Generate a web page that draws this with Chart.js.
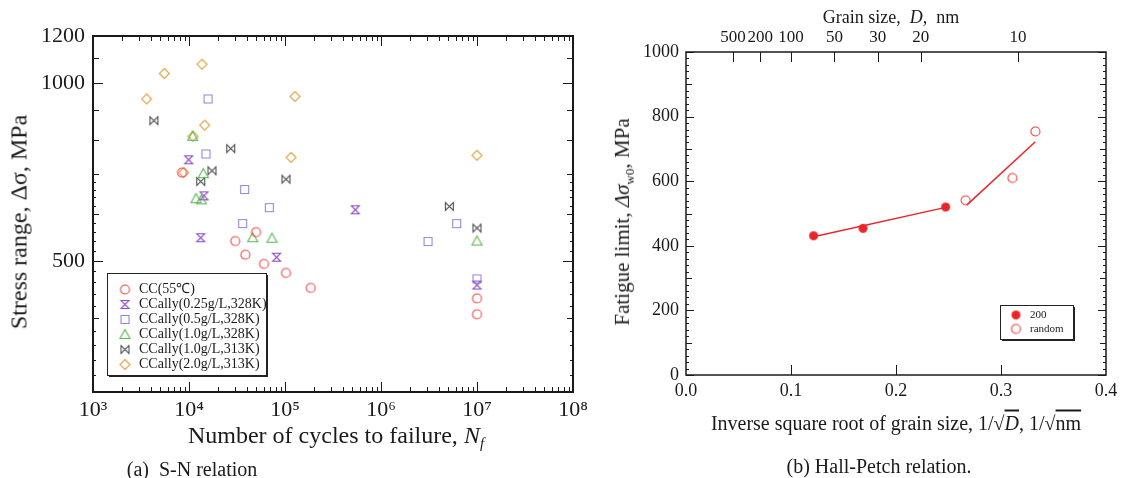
<!DOCTYPE html>
<html>
<head>
<meta charset="utf-8">
<script src="https://cdn.jsdelivr.net/npm/chart.js@4.4.0/dist/chart.umd.min.js"></script>
<style>
  body { margin: 0; background: #fff; font-family: "Liberation Serif", "Times New Roman", serif; color: #1a1a1a; }
  #page { position: relative; width: 1136px; height: 478px; overflow: hidden; }
  canvas { position: absolute; top: 0; }
  .lbl { position: absolute; white-space: nowrap; transform: translate(-50%, -50%); }
  .vlbl { position: absolute; white-space: nowrap; transform: translate(-50%, -50%) rotate(-90deg); }
  .lbl sub, .vlbl sub { font-size: 62%; }
  .ov { text-decoration: overline; }
</style>
</head>
<body>
<div id="page">
  <canvas id="sn" width="600" height="478" style="left:0"></canvas>
  <canvas id="hp" width="536" height="478" style="left:600px"></canvas>

  <div class="vlbl" style="left:19px; top:222px; font-size:24px">Stress range, Δσ, MPa</div>
  <div class="lbl" style="left:336px; top:437px; font-size:24px">Number of cycles to failure, <i>N</i><sub><i>f</i></sub></div>
  <div class="lbl" style="left:192px; top:469px; font-size:20px">(a)&nbsp; S-N relation</div>

  <div class="lbl" style="left:891px; top:17px; font-size:18px">Grain size,&nbsp; <i>D</i>,&nbsp; nm</div>
  <div class="vlbl" style="left:624px; top:222px; font-size:21px">Fatigue limit, <i>Δσ</i><sub>w0</sub>, MPa</div>
  <div class="lbl" style="left:896px; top:423px; font-size:20px">Inverse square root of grain size, 1/√<span class="ov"><i>D</i></span>, 1/√<span class="ov">nm</span></div>
  <div class="lbl" style="left:879px; top:466px; font-size:20px">(b) Hall-Petch relation.</div>
</div>

<script>
// ---- (a) S-N data: cycles to failure / stress range (MPa)
let ccN = [8450, 30300, 49900, 38600, 60400, 102400, 185300, 1e7, 1e7];
let ccS = [705, 540, 559, 512, 494, 477, 450, 432, 406];
let c025N = [9930, 14320, 13250, 81800, 540000, 1e7];
let c025S = [741, 644, 547, 507, 610, 455];
let c05N = [15780, 15030, 38000, 68650, 36200, 3.09e6, 6.14e6, 1e7];
let c05S = [939, 758, 660, 615, 578, 539, 578, 466];
let c10aN = [10930, 14090, 11830, 13430, 46100, 73200, 1e7];
let c10aS = [812, 702, 637, 634, 547, 546, 540];
let c10bN = [4310, 27200, 13250, 17360, 102400, 5.15e6, 1e7];
let c10bS = [863, 774, 681, 710, 687, 618, 568];
let c20N = [3620, 5530, 13650, 14550, 8800, 11000, 127000, 115500, 1e7];
let c20S = [939, 1037, 1075, 848, 705, 812, 948, 748, 754];

let cycleTicks = [1e3, 1e4, 1e5, 1e6, 1e7, 1e8];
let cycleLabels = ['10³', '10⁴', '10⁵', '10⁶', '10⁷', '10⁸'];
let stressTicks = [500, 1000, 1200];

// ---- (b) Hall-Petch data: 1/sqrt(D) / fatigue limit (MPa)
let hp200X = [0.1215, 0.1686, 0.2473];
let hp200Y = [431, 454, 520];
let hpRandX = [0.2663, 0.3108, 0.3327];
let hpRandY = [541, 610, 754];
let fit200X = [0.1215, 0.2473];
let fit200Y = [428, 519];
let fitRandX = [0.2673, 0.3327];
let fitRandY = [526, 722];
let grainSizes = [500, 200, 100, 50, 30, 20, 10];

Chart.defaults.font.family = '"Liberation Serif", "Times New Roman", serif';
Chart.defaults.color = '#1a1a1a';

function zip(xs, ys) {
    return xs.map((x, i) => ({ x: x, y: ys[i] }));
}

function makeMarker(kind, color) {
    let c = document.createElement('canvas');
    c.width = 15;
    c.height = 15;
    let g = c.getContext('2d');
    let m = 7.5;
    g.strokeStyle = color;
    g.fillStyle = color;
    g.lineWidth = 1.1;
    g.beginPath();
    if (kind == 'circle' || kind == 'dot') {
        g.arc(m, m, 4.5, 0, Math.PI * 2);
    }
    if (kind == 'square') {
        g.rect(m - 4, m - 4, 8, 8);
    }
    if (kind == 'triangle') {
        g.moveTo(m, m - 5); g.lineTo(m + 5, m + 4); g.lineTo(m - 5, m + 4); g.closePath();
    }
    if (kind == 'diamond') {
        g.moveTo(m, m - 5); g.lineTo(m + 5, m); g.lineTo(m, m + 5); g.lineTo(m - 5, m); g.closePath();
    }
    if (kind == 'hourglass') {
        g.moveTo(m - 4, m - 4); g.lineTo(m + 4, m - 4); g.lineTo(m - 4, m + 4); g.lineTo(m + 4, m + 4); g.closePath();
    }
    if (kind == 'bowtie') {
        g.moveTo(m - 4, m - 4); g.lineTo(m - 4, m + 4); g.lineTo(m + 4, m - 4); g.lineTo(m + 4, m + 4); g.closePath();
    }
    if (kind == 'dot') g.fill(); else g.stroke();
    return c;
}

// frame box + inward tick marks, placed through the chart's own scales
function frameTicks(frame, sets) {
    return {
        id: 'frameTicks',
        afterDatasetsDraw(chart) {
            const ctx = chart.ctx;
            const a = chart.chartArea;
            ctx.save();
            ctx.strokeStyle = '#1a1a1a';
            ctx.lineWidth = 1;
            sets.forEach(set => {
                const scale = chart.scales[set.scale];
                ctx.beginPath();
                set.values.forEach(v => {
                    const p = Math.round(scale.getPixelForValue(v)) + 0.5;
                    set.sides.forEach(side => {
                        if (side == 'bottom') { ctx.moveTo(p, a.bottom); ctx.lineTo(p, a.bottom - set.len); }
                        if (side == 'top') { ctx.moveTo(p, a.top); ctx.lineTo(p, a.top + set.len); }
                        if (side == 'left') { ctx.moveTo(a.left, p); ctx.lineTo(a.left + set.len, p); }
                        if (side == 'right') { ctx.moveTo(a.right, p); ctx.lineTo(a.right - set.len, p); }
                    });
                });
                ctx.stroke();
            });
            ctx.lineWidth = frame;
            ctx.strokeRect(a.left, a.top, a.right - a.left, a.bottom - a.top);
            ctx.restore();
        }
    };
}

// boxed legend with drop shadow, like the original plots
function boxLegend(o) {
    return {
        id: 'boxLegend',
        afterDraw(chart) {
            const ctx = chart.ctx;
            ctx.save();
            ctx.fillStyle = '#222';
            ctx.fillRect(o.x + o.shadow, o.y + o.shadow, o.w, o.h);
            ctx.fillStyle = '#fff';
            ctx.fillRect(o.x, o.y, o.w, o.h);
            ctx.strokeStyle = '#222';
            ctx.lineWidth = 1;
            ctx.strokeRect(o.x + 0.5, o.y + 0.5, o.w, o.h);
            ctx.font = o.size + 'px "Liberation Serif", serif';
            ctx.textBaseline = 'middle';
            ctx.fillStyle = '#1a1a1a';
            chart.data.datasets.filter(d => !d.fit).forEach((d, i) => {
                const y = o.rowY + i * o.rowH;
                const img = d.pointStyle;
                ctx.drawImage(img, o.symX - img.width / 2, y - img.height / 2);
                ctx.fillText(d.label, o.textX, y);
            });
            ctx.restore();
        }
    };
}

// tick lists for the frames
let decadeMinor = [];
for (let d = 1e3; d < 1e8; d *= 10) {
    for (let k = 2; k < 10; k++) decadeMinor.push(d * k);
}
let stress100 = [];
for (let v = 300; v <= 1200; v += 100) stress100.push(v);
let stress20 = [];
for (let v = 300; v <= 700; v += 20) stress20.push(v);
let limit200 = [0, 200, 400, 600, 800, 1000];
let limit100 = [100, 300, 500, 700, 900];
let limit20 = [];
for (let v = 0; v <= 1000; v += 20) limit20.push(v);

new Chart(document.getElementById('sn'), {
    type: 'scatter',
    data: {
        datasets: [
            { label: 'CC(55℃)', data: zip(ccN, ccS), pointStyle: makeMarker('circle', '#ee4848') },
            { label: 'CCally(0.25g/L,328K)', data: zip(c025N, c025S), pointStyle: makeMarker('hourglass', '#8a4cc2') },
            { label: 'CCally(0.5g/L,328K)', data: zip(c05N, c05S), pointStyle: makeMarker('square', '#8c88da') },
            { label: 'CCally(1.0g/L,328K)', data: zip(c10aN, c10aS), pointStyle: makeMarker('triangle', '#55bb50') },
            { label: 'CCally(1.0g/L,313K)', data: zip(c10bN, c10bS), pointStyle: makeMarker('bowtie', '#505050') },
            { label: 'CCally(2.0g/L,313K)', data: zip(c20N, c20S), pointStyle: makeMarker('diamond', '#dca040') }
        ]
    },
    options: {
        responsive: false,
        animation: false,
        events: [],
        layout: { padding: { top: 36, right: 27, left: 0, bottom: 0 } },
        scales: {
            x: {
                type: 'logarithmic', min: 1e3, max: 1e8,
                afterBuildTicks: s => { s.ticks = cycleTicks.map(v => ({ value: v })); },
                afterFit: s => { s.height = 86; },
                grid: { display: false, drawTicks: false },
                border: { display: false },
                ticks: { font: { size: 22 }, padding: 5, maxRotation: 0, minRotation: 0, autoSkip: false,
                    callback: (v, i) => cycleLabels[i] }
            },
            y: {
                type: 'logarithmic', min: 300, max: 1200,
                afterBuildTicks: s => { s.ticks = stressTicks.map(v => ({ value: v })); },
                afterFit: s => { s.width = 93; },
                grid: { display: false, drawTicks: false },
                border: { display: false },
                ticks: { font: { size: 22 }, padding: 8, autoSkip: false, callback: v => String(v) }
            }
        },
        plugins: {
            legend: { display: false },
            tooltip: { enabled: false }
        }
    },
    plugins: [
        frameTicks(2, [
            { scale: 'x', values: cycleTicks, len: 10, sides: ['bottom', 'top'] },
            { scale: 'x', values: decadeMinor, len: 5, sides: ['bottom', 'top'] },
            { scale: 'y', values: [500, 1000], len: 10, sides: ['left', 'right'] },
            { scale: 'y', values: stress100, len: 6, sides: ['left', 'right'] },
            { scale: 'y', values: stress20, len: 3, sides: ['left', 'right'] }
        ]),
        boxLegend({ x: 107, y: 273, w: 159, h: 102, shadow: 2, size: 14, symX: 125, textX: 139, rowY: 289.5, rowH: 15 })
    ]
});

new Chart(document.getElementById('hp'), {
    type: 'scatter',
    data: {
        datasets: [
            { label: '200', data: zip(hp200X, hp200Y), pointStyle: makeMarker('dot', '#e8262a') },
            { label: 'random', data: zip(hpRandX, hpRandY), pointStyle: makeMarker('circle', '#ec4040') },
            { fit: true, data: zip(fit200X, fit200Y), showLine: true, pointRadius: 0, borderColor: '#e8262a', borderWidth: 1.5 },
            { fit: true, data: zip(fitRandX, fitRandY), showLine: true, pointRadius: 0, borderColor: '#e8262a', borderWidth: 1.5 }
        ]
    },
    options: {
        responsive: false,
        animation: false,
        events: [],
        layout: { padding: { top: 0, right: 30, left: 0, bottom: 0 } },
        scales: {
            x: {
                type: 'linear', min: 0, max: 0.4,
                afterFit: s => { s.height = 103; },
                grid: { display: false, drawTicks: false },
                border: { display: false },
                ticks: { stepSize: 0.1, font: { size: 18 }, padding: 5, maxRotation: 0, callback: v => v.toFixed(1) }
            },
            x2: {
                type: 'linear', axis: 'x', position: 'top', min: 0, max: 0.4,
                afterBuildTicks: s => { s.ticks = grainSizes.map(d => ({ value: 1 / Math.sqrt(d) })); },
                afterFit: s => { s.height = 52; },
                grid: { display: false, drawTicks: false },
                border: { display: false },
                ticks: { font: { size: 17 }, padding: 4, maxRotation: 0, minRotation: 0, autoSkip: false,
                    callback: (v, i) => String(grainSizes[i]) }
            },
            y: {
                type: 'linear', min: 0, max: 1000,
                afterFit: s => { s.width = 86; },
                grid: { display: false, drawTicks: false },
                border: { display: false },
                ticks: { stepSize: 200, font: { size: 18 }, padding: 7, callback: v => String(v) }
            }
        },
        plugins: {
            legend: { display: false },
            tooltip: { enabled: false }
        }
    },
    plugins: [
        frameTicks(1.5, [
            { scale: 'x', values: [0.1, 0.2, 0.3], len: 10, sides: ['bottom'] },
            { scale: 'x2', values: grainSizes.map(d => 1 / Math.sqrt(d)), len: 10, sides: ['top'] },
            { scale: 'y', values: limit200, len: 8, sides: ['left', 'right'] },
            { scale: 'y', values: limit100, len: 6, sides: ['left', 'right'] },
            { scale: 'y', values: limit20, len: 3, sides: ['left', 'right'] }
        ]),
        boxLegend({ x: 400, y: 305, w: 73, h: 34, shadow: 2, size: 11, symX: 416, textX: 430, rowY: 315, rowH: 14 })
    ]
});
</script>
</body>
</html>
